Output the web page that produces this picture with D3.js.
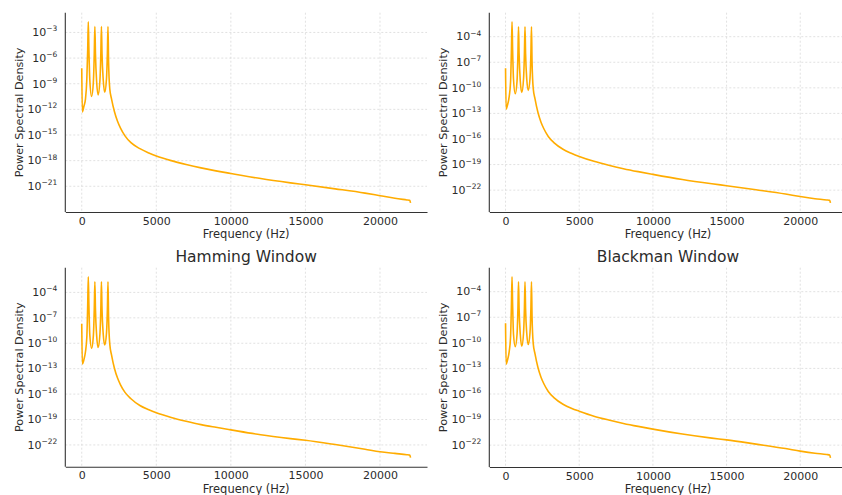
<!DOCTYPE html>
<meta charset="utf-8">
<script src="https://d3js.org/d3.v7.min.js"></script>
<style>
  body { margin: 0; background: #fff; }
  svg { font-family: "DejaVu Sans", sans-serif; }
</style>
<div id="chart"></div>
<script>

// frequency grid (Hz) shared by the four spectra
var freqs = [0, 40, 150, 250, 340, 400, 440, 480, 540, 660, 780, 840, 880, 920, 1000, 1100,
  1220, 1280, 1320, 1360, 1440, 1540, 1660, 1720, 1760, 1800, 1880, 2000, 2200, 2400, 2600,
  2900, 3300, 3900, 4500, 5000, 6000, 7000, 8000, 9000, 10000, 12000, 14000, 15000, 17000,
  19000, 20000, 21000, 21800, 22000, 22050];

// PSD, as log10 exponents
var psdTopLeft = [-7.2, -12.3, -11.6, -10.8, -8.5, -5.0, -1.75, -5.0, -8.5, -10.5, -8.8, -5.5, -2.3, -5.5, -8.8, -10.3,
  -8.6, -5.5, -2.3, -5.5, -8.5, -10.0, -8.4, -5.4, -2.3, -6.5, -9.6, -10.8, -12.3, -13.4, -14.2,
  -15.1, -15.9, -16.6, -17.1, -17.45, -18.0, -18.45, -18.85, -19.2, -19.5, -20.1, -20.6, -20.83, -21.3,
  -21.8, -22.1, -22.4, -22.6, -22.65, -22.95];
var psdTopRight = [-7.7, -12.5, -11.9, -11.0, -9.3, -5.5, -2.25, -5.5, -9.0, -10.7, -9.2, -6.0, -2.85, -6.0, -9.2, -10.55,
  -9.0, -6.0, -2.85, -6.0, -9.0, -10.3, -8.9, -6.0, -2.85, -7.0, -10.1, -11.3, -12.9, -14.0, -14.8,
  -15.7, -16.45, -17.2, -17.7, -18.05, -18.62, -19.08, -19.48, -19.83, -20.15, -20.75, -21.25, -21.48, -21.95,
  -22.45, -22.75, -23.0, -23.15, -23.2, -23.5];
var psdHamming = [-7.7, -12.45, -11.9, -11.0, -9.3, -5.5, -2.15, -5.5, -9.0, -10.6, -9.1, -6.0, -2.75, -6.0, -9.1, -10.5,
  -8.9, -6.0, -2.75, -6.0, -8.9, -10.2, -8.8, -6.0, -2.75, -7.0, -10.1, -11.4, -13.0, -14.1, -14.9,
  -15.8, -16.55, -17.35, -17.85, -18.2, -18.75, -19.2, -19.6, -19.92, -20.22, -20.8, -21.25, -21.45, -21.95,
  -22.5, -22.8, -23.0, -23.15, -23.2, -23.5];
var psdBlackman = [-7.7, -12.5, -11.9, -11.0, -9.3, -5.5, -2.25, -5.5, -9.0, -10.45, -9.0, -6.0, -2.83, -6.0, -9.0, -10.4,
  -8.9, -6.0, -2.83, -6.0, -8.9, -10.2, -8.8, -6.0, -2.83, -7.0, -10.1, -11.3, -12.9, -14.0, -14.8,
  -15.7, -16.45, -17.2, -17.7, -18.02, -18.6, -19.05, -19.45, -19.8, -20.12, -20.7, -21.18, -21.38, -21.88,
  -22.4, -22.7, -22.95, -23.1, -23.15, -23.5];

var titles = ["", "", "Hamming Window", "Blackman Window"];
var xTicks = [0, 5000, 10000, 15000, 20000];
var yTicksTopLeft = [-3, -6, -9, -12, -15, -18, -21];
var yTicksOther = [-4, -7, -10, -13, -16, -19, -22];

var W = 842, H = 495;
var svg = d3.select("#chart").append("svg")
  .attr("width", W).attr("height", H);

// panel boxes (pixels)
var panels = [
  {left: 65.3, right: 427, top: 12.7, bottom: 212, exps: psdTopLeft, ticks: yTicksTopLeft, title: titles[0]},
  {left: 489.3, right: 846.7, top: 12.7, bottom: 212, exps: psdTopRight, ticks: yTicksOther, title: titles[1]},
  {left: 65.3, right: 427, top: 267.7, bottom: 466.7, exps: psdHamming, ticks: yTicksOther, title: titles[2]},
  {left: 489.3, right: 846.7, top: 267.7, bottom: 467, exps: psdBlackman, ticks: yTicksOther, title: titles[3]}
];

var fMin = d3.min(freqs), fMax = d3.max(freqs), fPad = (fMax - fMin) * 0.05;
var textColor = "#2b2b2b";

panels.forEach(function(p) {
  var vals = p.exps.map(function(e) { return Math.pow(10, e); });
  var eMin = d3.min(p.exps), eMax = d3.max(p.exps), ePad = (eMax - eMin) * 0.05;

  var x = d3.scaleLinear().domain([fMin - fPad, fMax + fPad]).range([p.left, p.right]);
  var y = d3.scaleLog().domain([Math.pow(10, eMin - ePad), Math.pow(10, eMax + ePad)]).range([p.bottom, p.top]);

  var g = svg.append("g");

  // grid
  g.selectAll(".gx").data(xTicks).enter().append("line")
    .attr("x1", function(d) { return x(d); }).attr("x2", function(d) { return x(d); })
    .attr("y1", p.top).attr("y2", p.bottom)
    .attr("stroke", "#d9d9d9").attr("stroke-width", 0.8).attr("stroke-dasharray", "2,2");
  g.selectAll(".gy").data(p.ticks).enter().append("line")
    .attr("x1", p.left).attr("x2", p.right)
    .attr("y1", function(d) { return y(Math.pow(10, d)); }).attr("y2", function(d) { return y(Math.pow(10, d)); })
    .attr("stroke", "#d9d9d9").attr("stroke-width", 0.8).attr("stroke-dasharray", "2,2");

  // x axis
  var xAxis = g.append("g")
    .attr("transform", "translate(0," + p.bottom + ")")
    .call(d3.axisBottom(x).tickValues(xTicks).tickFormat(d3.format("d")).tickSize(0).tickPadding(5));
  xAxis.select(".domain").attr("stroke", "#333").attr("stroke-width", 1.1);
  xAxis.selectAll("text").attr("font-size", 11).attr("fill", textColor)
    .attr("font-family", "DejaVu Sans, sans-serif");

  // y axis with 10^n labels
  g.append("line")
    .attr("x1", p.left).attr("x2", p.left).attr("y1", p.top).attr("y2", p.bottom)
    .attr("stroke", "#333").attr("stroke-width", 1.1);
  var yl = g.selectAll(".yl").data(p.ticks).enter().append("text")
    .attr("x", p.left - 8)
    .attr("y", function(d) { return y(Math.pow(10, d)) + 3.8; })
    .attr("text-anchor", "end").attr("font-size", 11).attr("fill", textColor);
  yl.append("tspan").text("10");
  yl.append("tspan").attr("dy", -4.8).attr("font-size", 7.5).text(function(d) { return "\u2212" + Math.abs(d); });

  // labels
  g.append("text")
    .attr("x", (p.left + p.right) / 2).attr("y", p.bottom + 26)
    .attr("text-anchor", "middle").attr("font-size", 11.5).attr("fill", textColor)
    .text("Frequency (Hz)");
  g.append("text")
    .attr("transform", "translate(" + (p.left - 42) + "," + ((p.top + p.bottom) / 2) + ") rotate(-90)")
    .attr("text-anchor", "middle").attr("font-size", 11.2).attr("fill", textColor)
    .text("Power Spectral Density");
  if (p.title) {
    g.append("text")
      .attr("x", (p.left + p.right) / 2).attr("y", p.top - 6)
      .attr("text-anchor", "middle").attr("font-size", 15.5).attr("fill", textColor)
      .text(p.title);
  }

  // spectrum
  var line = d3.line()
    .x(function(d, i) { return x(freqs[i]); })
    .y(function(d) { return y(d); })
    .curve(d3.curveMonotoneX);
  g.append("path")
    .datum(vals)
    .attr("fill", "none")
    .attr("stroke", "#ffac00")
    .attr("stroke-width", 1.6)
    .attr("stroke-linejoin", "round")
    .attr("d", line);
});

</script>
